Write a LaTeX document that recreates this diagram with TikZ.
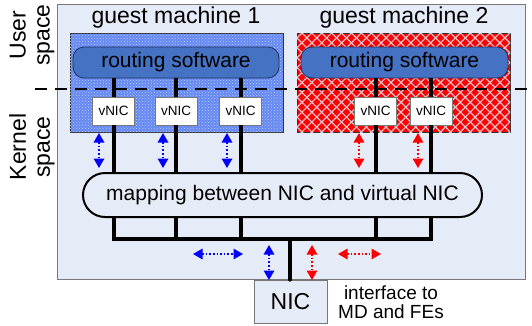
\documentclass[tikz,border=0pt]{standalone}
\usepackage{fontspec}
\setmainfont{Liberation Sans}
\usetikzlibrary{arrows.meta,patterns,patterns.meta}

\definecolor{hostbg}{RGB}{230,236,247}
\definecolor{hostedge}{RGB}{120,120,120}
\definecolor{routefill}{RGB}{70,114,196}
\definecolor{routeedge}{RGB}{30,50,95}
\definecolor{guestblue}{RGB}{100,136,242}
\definecolor{guestdot}{RGB}{190,208,252}
\definecolor{guestred}{RGB}{255,0,0}
\definecolor{hatch}{RGB}{232,196,206}
\definecolor{flowblue}{RGB}{0,0,255}
\definecolor{flowred}{RGB}{255,0,0}

\tikzset{
  hostbox/.style={draw=hostedge, fill=hostbg, line width=0.8pt, inner sep=0pt},
  guestbox/.style={draw=black!80, line width=0.8pt, minimum width=213pt, minimum height=99pt, inner sep=0pt},
  blueguest/.style={guestbox, fill=guestblue,
    postaction={pattern=crosshatch dots, pattern color=guestdot}},
  redguest/.style={guestbox, fill=guestred,
    postaction={pattern={Lines[angle=45,distance=7pt,line width=1.2pt]}, pattern color=hatch},
    postaction={pattern={Lines[angle=-45,distance=7pt,line width=1.2pt]}, pattern color=hatch}},
  router/.style={draw=routeedge, fill=routefill, line width=0.8pt, rounded corners=11pt,
    minimum height=31pt, inner sep=0pt, font=\fontsize{21}{24}\selectfont},
  vnic/.style={draw=hostedge, fill=white, line width=0.8pt, minimum width=42pt,
    minimum height=28pt, inner sep=0pt, font=\fontsize{13.5}{15}\selectfont},
  mapper/.style={draw=black, fill=hostbg, line width=2pt, rounded corners=22pt,
    minimum width=399pt, minimum height=44pt, inner sep=0pt, font=\fontsize{21}{24}\selectfont},
  wire/.style={line width=4pt, black},
  title/.style={font=\fontsize{23}{26}\selectfont, inner sep=0pt},
  spacelabel/.style={font=\fontsize{23}{24}\selectfont, rotate=90, align=center, inner sep=0pt},
  flow/.style={line width=1.6pt, dotted,
    {Triangle[width=10.5pt 0,length=9.5pt 0]}-{Triangle[width=10.5pt 0,length=9.5pt 0]}},
}

\begin{document}
\begin{tikzpicture}[x=1pt,y=-1pt]
\useasboundingbox (0,0) rectangle (532,325);

% host machine
\node[hostbox, minimum width=468pt, minimum height=275pt] (host) at (291,141.5) {};

% guest machines
\node[blueguest] (g1) at (176.5,82.5) {};
\node[redguest]  (g2) at (403.5,82.5) {};
\node[title] (t1) at (176,18) {guest machine 1};
\node[title] (t2) at (404,18) {guest machine 2};

% routing software
\node[router, minimum width=206pt] (r1) at (176,62.5) {routing software};
\node[router, minimum width=207pt] (r2) at (404.5,62.5) {routing software};

% virtual NICs
\node[vnic] (v1) at (113.5,111) {vNIC};
\node[vnic] (v2) at (176,111)   {vNIC};
\node[vnic] (v3) at (240.5,111) {vNIC};
\node[vnic] (v4) at (375.5,111) {vNIC};
\node[vnic] (v5) at (431,111)   {vNIC};

% mapping layer
\node[mapper] (map) at (282.5,195) {mapping between NIC and virtual NIC};

% physical NIC
\node[hostbox, minimum width=73pt, minimum height=43pt, font=\fontsize{23}{26}\selectfont] (nic) at (290.5,301.5) {NIC};
\node[font=\fontsize{19}{19}\selectfont, align=center, inner sep=0pt] (iface) at (391,302) {interface to\\MD and FEs};

% user/kernel boundary
\coordinate (dl) at (35,89);
\coordinate (dr) at (532,89);
\draw[line width=1.3pt, dash pattern=on 12pt off 8pt] (dl) -- (dr);

\node[spacelabel] (ul) at (32,35)  {User\\space};
\node[spacelabel] (kl) at (32,147) {Kernel\\space};

% wires from routing software through the vNICs to the mapping layer
\foreach \v/\r in {v1/r1,v2/r1,v3/r1,v4/r2,v5/r2}{
  \draw[wire] (\v.north) -- (\v.north |- \r.south);
  \draw[wire] (\v.south) -- (\v.south |- map.north);
}

% bus below the mapping layer
\coordinate (bus) at (290,239);
\draw[wire] (v1 |- map.south) |- (v5 |- bus) -- (v5 |- map.south);
\foreach \v in {v2,v3,v4}{
  \draw[wire] (\v |- map.south) -- (\v |- bus);
}
\draw[wire, line cap=round] (bus) -- (bus |- nic.north);

% traffic flows
\foreach \x/\c in {99/flowblue,163/flowblue,227/flowblue,359/flowred,418/flowred}{
  \coordinate (fa) at (\x,133);
  \coordinate (fb) at (\x,168);
  \draw[flow, \c] (fa) -- (fb);
}
\coordinate (h1a) at (193,254); \coordinate (h1b) at (243,254);
\coordinate (h2a) at (338,254); \coordinate (h2b) at (381,254);
\coordinate (u1a) at (269,245); \coordinate (u1b) at (269,280);
\coordinate (u2a) at (312,245); \coordinate (u2b) at (312,280);
\draw[flow, flowblue] (h1a) -- (h1b);
\draw[flow, flowblue] (u1a) -- (u1b);
\draw[flow, flowred]  (u2a) -- (u2b);
\draw[flow, flowred]  (h2a) -- (h2b);
\end{tikzpicture}
\end{document}
